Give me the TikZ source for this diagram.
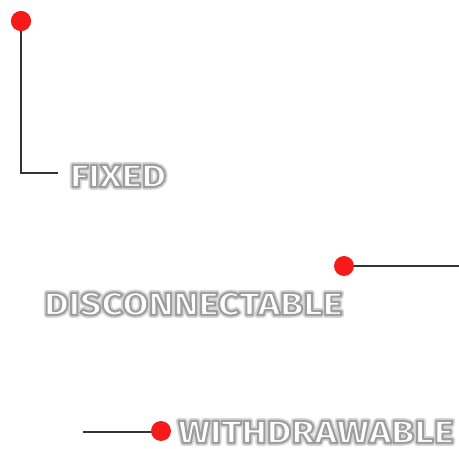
\documentclass[tikz,border=0pt]{standalone}
\usepackage{fontspec}
\setmainfont{Fira Sans}
\newfontfamily\lblfont[FakeStretch=1.18]{Fira Sans}
\definecolor{dotred}{HTML}{F61A1A}
\definecolor{linegray}{HTML}{333333}
% #1 stroke width, #2 stroke rgb, #3 fill colour, #4 text
\newcommand{\rendertext}[4]{{\color{#3}\special{pdf:literal direct #1 w 1 j 1 J #2 RG 2 Tr}#4\special{pdf:literal direct 0 Tr}}}
\newcommand{\glowtext}[1]{\rendertext{5.5}{0.84 0.84 0.84}{black!15}{#1}}
\newcommand{\edgetext}[1]{\rendertext{2.1}{0.62 0.62 0.62}{white}{#1}}
\begin{document}
\begin{tikzpicture}[x=1pt,y=-1pt,
  dot/.style={circle,fill=dotred,minimum size=20pt,inner sep=0pt},
  leader/.style={draw=linegray,line width=2pt},
  lbl/.style={anchor=base west,inner sep=0pt,font=\lblfont\fontsize{32}{32}\selectfont\bfseries}]
\useasboundingbox (0,0) rectangle (459,449);
\fill[white] (0,0) rectangle (459,449);
% FIXED
\node[dot] (d1) at (21,21) {};
\coordinate (c1) at (21,173);
\coordinate (e1) at (58,173);
\draw[leader] (d1.center) -- (c1) -- (e1);
\node[dot] (d1) at (21,21) {};
\node[lbl] (t1g) at (70,187) {\glowtext{FIXED}};
\node[lbl] (t1) at (70,187) {\edgetext{FIXED}};
% DISCONNECTABLE
\coordinate (e2) at (459,266);
\draw[leader] (e2) -- (344,266);
\node[dot] (d2) at (344,266) {};
\node[lbl] (t2g) at (44,315) {\glowtext{DISCONNECTABLE}};
\node[lbl] (t2) at (44,315) {\edgetext{DISCONNECTABLE}};
% WITHDRAWABLE
\coordinate (e3) at (83,432);
\draw[leader] (e3) -- (161,432);
\node[dot] (d3) at (161,431) {};
\node[lbl] (t3g) at (178,443) {\glowtext{WITHDRAWABLE}};
\node[lbl] (t3) at (178,443) {\edgetext{WITHDRAWABLE}};
\end{tikzpicture}
\end{document}
